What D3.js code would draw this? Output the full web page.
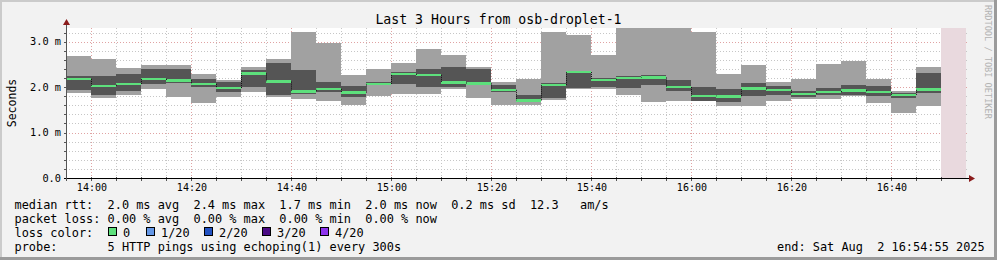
<!DOCTYPE html>
<html><head><meta charset="utf-8">
<script src="https://cdn.jsdelivr.net/npm/d3@7"></script>
<style>
html,body{margin:0;padding:0;background:#f2f2f2;}
svg{display:block;}
text{font-family:"DejaVu Sans Mono",monospace;fill:#000;white-space:pre;}
</style></head><body>
<svg id="c" width="997" height="260"></svg>
<script>
// ---- data (ms) ----
const intervalStarts = ["13:55","14:00","14:05","14:10","14:15","14:20","14:25","14:30","14:35","14:40",
  "14:45","14:50","14:55","15:00","15:05","15:10","15:15","15:20","15:25","15:30",
  "15:35","15:40","15:45","15:50","15:55","16:00","16:05","16:10","16:15","16:20",
  "16:25","16:30","16:35","16:40","16:45"];
const maxRtt    = [2.69,2.62,2.42,2.49,2.49,2.29,2.16,2.45,2.62,3.21,2.97,2.27,2.39,2.53,2.84,2.71,2.44,2.11,2.18,3.21,3.15,2.71,3.40,3.40,3.40,3.21,2.29,2.49,2.11,2.18,2.51,2.57,2.18,1.91,2.44];
const upperRtt  = [2.24,2.24,2.29,2.40,2.40,2.18,2.12,2.38,2.53,2.38,2.11,2.02,2.11,2.33,2.40,2.44,2.40,2.05,1.82,2.09,2.35,2.19,2.24,2.27,2.16,2.00,1.96,2.09,2.02,1.91,1.97,2.05,2.02,1.88,2.31];
const medianRtt = [2.18,2.03,2.07,2.18,2.15,2.07,1.98,2.30,2.12,1.91,1.96,1.88,2.07,2.29,2.27,2.10,2.08,1.94,1.71,2.05,2.33,2.16,2.20,2.21,2.00,1.81,1.80,1.97,1.94,1.85,1.89,1.93,1.89,1.83,1.95];
const lowerRtt  = [1.94,1.83,1.92,2.07,2.08,2.01,1.90,2.00,1.83,1.85,1.90,1.79,2.04,2.07,2.00,2.00,2.05,1.90,1.68,1.77,1.97,2.01,1.99,2.05,1.92,1.70,1.68,1.80,1.83,1.78,1.83,1.83,1.80,1.77,1.88];
const minRtt    = [1.88,1.77,1.83,1.96,1.79,1.66,1.79,1.89,1.78,1.74,1.69,1.61,1.80,1.85,1.85,1.95,1.76,1.61,1.61,1.72,1.95,1.96,1.83,1.67,1.70,1.69,1.58,1.58,1.69,1.74,1.74,1.80,1.66,1.44,1.58];

const yTickValues = [0,1,2,3];
const yTickLabels = ["0.0","1.0 m","2.0 m","3.0 m"];
const xTickLabels = ["14:00","14:20","14:40","15:00","15:20","15:40","16:00","16:20","16:40"];
const lossLabels = ["0","1/20","2/20","3/20","4/20"];
const lossColors = ["#5de07c","#6497e6","#2252c2","#4a0a85","#8e34ee"];
const titleText = "Last 3 Hours from osb-droplet-1";
const legendLines = [
  "median rtt:  2.0 ms avg  2.4 ms max  1.7 ms min  2.0 ms now  0.2 ms sd  12.3   am/s",
  "packet loss: 0.00 % avg  0.00 % max  0.00 % min  0.00 % now",
  "loss color:",
  "probe:       5 HTTP pings using echoping(1) every 300s"
];
const endText = "end: Sat Aug  2 16:54:55 2025";
const day = "2025-08-02";
const rangeStart = "13:54:55", rangeEnd = "16:54:55", lastData = "16:50:00";

// ---- setup ----
const svg = d3.select("#c");
const W = 997, H = 260;
const pt = d3.timeParse("%Y-%m-%d %H:%M:%S");
const pm = d3.timeParse("%Y-%m-%d %H:%M");
const t0 = pt(day+" "+rangeStart), t1 = pt(day+" "+rangeEnd);
const x = d3.scaleTime().domain([t0,t1]).range([66,966]);
const y = d3.scaleLinear().domain([0,3.3]).range([178,28]);
const X0 = 66, X1 = 966, Y0 = 178, Y1 = 28;

// background & frame
svg.append("rect").attr("width",W).attr("height",H).attr("fill","#f2f2f2");
svg.append("rect").attr("x",0).attr("y",0).attr("width",W).attr("height",2).attr("fill","#cbcbcb");
svg.append("rect").attr("x",0).attr("y",0).attr("width",2).attr("height",H).attr("fill","#cbcbcb");
svg.append("rect").attr("x",0).attr("y",H-3).attr("width",W).attr("height",3).attr("fill","#9b9b9b");
svg.append("rect").attr("x",W-3).attr("y",0).attr("width",3).attr("height",H).attr("fill","#9b9b9b");

// canvas
svg.append("rect").attr("x",X0).attr("y",Y1).attr("width",X1-X0).attr("height",Y0-Y1).attr("fill","#fff");

// grid
const g = svg.append("g").attr("shape-rendering","crispEdges");
const minorY = y.ticks(16);
minorY.forEach(v=>{
  const major = Math.abs(v-Math.round(v))<1e-6;
  const yy = Math.round(y(v))+0.5;
  g.append("line").attr("x1",X0).attr("x2",X1+3).attr("y1",yy).attr("y2",yy)
   .attr("stroke", major? "#e0a3a3":"#c6c6c6").attr("stroke-dasharray","1,2");
});
const minorX = d3.timeMinute.every(5).range(t0,t1);
minorX.forEach(t=>{
  const major = t.getMinutes()%20===0;
  const xx = Math.floor(x(t))+0.5;
  g.append("line").attr("x1",xx).attr("x2",xx).attr("y1",Y1).attr("y2",Y0)
   .attr("stroke", major? "#e0a3a3":"#c6c6c6").attr("stroke-dasharray","1,2");
});

// data
const rows = intervalStarts.map((s,i)=>{
  const a = pm(day+" "+s);
  return {a, b:d3.timeMinute.offset(a,5), max:maxRtt[i], up:upperRtt[i], med:medianRtt[i], lo:lowerRtt[i], min:minRtt[i]};
});
svg.append("clipPath").attr("id","clip").append("rect").attr("x",X0).attr("y",Y1).attr("width",X1-X0).attr("height",Y0-Y1);
const d = svg.append("g").attr("clip-path","url(#clip)").attr("shape-rendering","crispEdges");

// unknown region
d.append("rect").attr("x",x(pt(day+" "+lastData))).attr("y",Y1)
  .attr("width",x(t1)-x(pt(day+" "+lastData))).attr("height",Y0-Y1).attr("fill","#e9d9de");

d.selectAll(".lt").data(rows).join("rect")
  .attr("x",r=>x(r.a)).attr("width",r=>x(r.b)-x(r.a))
  .attr("y",r=>y(r.max)).attr("height",r=>y(r.min)-y(r.max)).attr("fill","#a1a1a1");
d.selectAll(".dk").data(rows).join("rect")
  .attr("x",r=>x(r.a)).attr("width",r=>x(r.b)-x(r.a))
  .attr("y",r=>y(r.up)).attr("height",r=>y(r.lo)-y(r.up)).attr("fill","#555555");
// transitions of median
const tr = svg.append("g").attr("clip-path","url(#clip)");
rows.forEach((r,i)=>{
  if(i===0) return;
  const p = rows[i-1];
  const xx = Math.floor(x(r.a))+0.5;
  tr.append("line").attr("x1",xx).attr("x2",xx).attr("y1",y(p.med)).attr("y2",y(r.med))
    .attr("stroke","#111").attr("stroke-dasharray","1,1");
});
d.selectAll(".md").data(rows).join("rect")
  .attr("x",r=>x(r.a)).attr("width",r=>x(r.b)-x(r.a))
  .attr("y",r=>y(r.med)-1.2).attr("height",2.6).attr("fill",lossColors[0]);

// axes
const ax = svg.append("g").attr("shape-rendering","crispEdges");
minorY.forEach(v=>{
  const yy = Math.round(y(v))+0.5;
  ax.append("line").attr("x1",X0-2).attr("x2",X0+1).attr("y1",yy).attr("y2",yy).attr("stroke","#555");
});
minorX.forEach(t=>{
  const xx = Math.floor(x(t))+0.5;
  ax.append("line").attr("x1",xx).attr("x2",xx).attr("y1",Y0-1).attr("y2",Y0+3).attr("stroke","#555");
});
ax.append("line").attr("x1",X0-2).attr("x2",X1+7).attr("y1",Y0+0.5).attr("y2",Y0+0.5).attr("stroke","#000");
ax.append("line").attr("x1",X0+0.5).attr("x2",X0+0.5).attr("y1",Y0+3).attr("y2",Y1-5).attr("stroke","#555");
svg.append("path").attr("d",`M${X1+3},${Y0-3} L${X1+9},${Y0+0.5} L${X1+3},${Y0+4} Z`).attr("fill","#8b1c1c");
svg.append("path").attr("d",`M${X0-3},${Y1-3} L${X0+0.5},${Y1-9} L${X0+4},${Y1-3} Z`).attr("fill","#8b1c1c");

// tick labels
yTickValues.forEach((v,i)=>{
  svg.append("text").attr("x",61).attr("y",y(v)+3.5).attr("text-anchor","end")
    .attr("font-size","10.3px").text(yTickLabels[i]);
});
xTickLabels.forEach(s=>{
  const t = pm(day+" "+s);
  svg.append("text").attr("x",x(t)+0.5).attr("y",191).attr("text-anchor","middle")
    .attr("font-size","10px").text(s);
});

// title, axis label, watermark
svg.append("text").attr("x",498.5).attr("y",24).attr("text-anchor","middle").attr("font-size","13.2px").text(titleText);
svg.append("text").attr("transform","translate(15.5,103) rotate(-90)").attr("text-anchor","middle").attr("font-size","11.5px").text("Seconds");
svg.append("text").attr("transform","translate(985,5) rotate(90)").attr("font-size","8.6px").style("fill","#b3b3b3").text("RRDTOOL / TOBI OETIKER");

// legend
const lx = 14.5, lfs = "11.9px";
legendLines.forEach((s,i)=>{
  svg.append("text").attr("x",lx).attr("y",208.5+14*i).attr("font-size",lfs).text(s);
});
const swX = [108,146,204,262,320];
lossLabels.forEach((s,i)=>{
  svg.append("rect").attr("x",swX[i]+0.5).attr("y",227.5).attr("width",8).attr("height",8)
    .attr("fill",lossColors[i]).attr("stroke","#000").attr("stroke-width",1).attr("shape-rendering","crispEdges");
  svg.append("text").attr("x",swX[i]+15).attr("y",236.5).attr("font-size",lfs).text(s);
});
svg.append("text").attr("x",777).attr("y",250.5).attr("font-size",lfs).text(endText);
</script>
</body></html>
